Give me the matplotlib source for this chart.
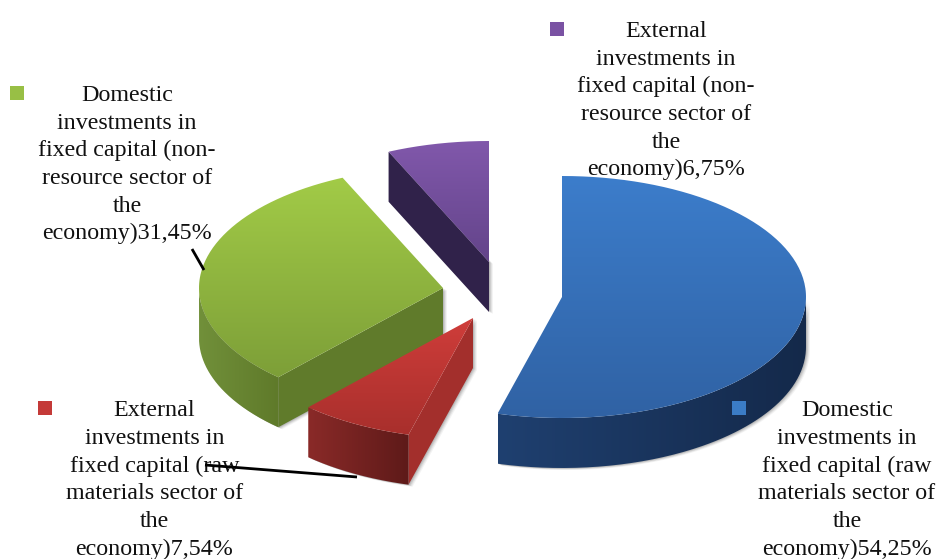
import numpy as np
import matplotlib
matplotlib.use("Agg")
import matplotlib.pyplot as plt
from matplotlib.path import Path
from matplotlib.patches import PathPatch, Polygon, Rectangle

# ---- data ----
labels = [
    "Domestic\ninvestments in\nfixed capital (raw\nmaterials sector of\nthe\neconomy)54,25%",
    "External\ninvestments in\nfixed capital (raw\nmaterials sector of\nthe\neconomy)7,54%",
    "Domestic\ninvestments in\nfixed capital (non-\nresource sector of\nthe\neconomy)31,45%",
    "External\ninvestments in\nfixed capital (non-\nresource sector of\nthe\neconomy)6,75%",
]
values = [54.25, 7.54, 31.45, 6.75]

# ---- style and layout ----
top_colors = [("#3c7dcb", "#3062a4"), ("#cf3d3a", "#a82f2c"),
              ("#a2cb47", "#7d9f38"), ("#8158ab", "#63448a")]
rim_colors = [("#1f4070", "#14294a"), ("#8a2a28", "#5e1a19"),
              ("#71903a", "#5f7a2a"), ("#30224a", "#30224a")]
cut_colors = ["#1f3f6b", "#a32f2c", "#607b2b", "#30224a"]
legend_colors = ["#3b7cc6", "#c43a38", "#98bf45", "#7a52a3"]
apexes = [(562, 297), (473, 318), (443, 288), (489, 262)]
RX, RY, DEPTH = 244, 121, 50
label_xy = [(847, 400.5), (154.5, 400.5), (127, 85), (666, 21)]
marker_xy = [(739, 408), (45, 408), (17, 93), (557, 29)]
leaders = [None, ((205, 465), (357, 477)), ((192, 249), (204, 270)), None]

plt.rcParams["font.family"] = ["Liberation Serif", "DejaVu Serif"]
fig = plt.figure(figsize=(9.41, 5.59), dpi=100)
ax = fig.add_axes([0, 0, 1, 1])
ax.set_xlim(0, 941)
ax.set_ylim(559, 0)
ax.axis("off")


def pt(apex, deg, dz=0.0):
    t = np.radians(deg)
    return apex[0] + RX * np.sin(t), apex[1] - RY * np.cos(t) + dz


def arc(apex, a0, a1, dz=0.0, n=160):
    t = np.linspace(a0, a1, n)
    x, y = pt(apex, t, dz)
    return np.column_stack([x, y])


def gradient_fill(verts, c0, c1, horizontal=False, zorder=2):
    verts = np.asarray(verts)
    patch = PathPatch(Path(np.vstack([verts, verts[:1]])), fc="none", ec="none", zorder=zorder)
    ax.add_patch(patch)
    rgb0, rgb1 = matplotlib.colors.to_rgb(c0), matplotlib.colors.to_rgb(c1)
    f = np.linspace(0, 1, 256)
    grad = np.outer(1 - f, rgb0) + np.outer(f, rgb1)
    img = grad[None, :, :] if horizontal else grad[:, None, :]
    x0, y0 = verts.min(axis=0)
    x1, y1 = verts.max(axis=0)
    im = ax.imshow(img, extent=(x0, x1, y1, y0), aspect="auto", zorder=zorder,
                   interpolation="bilinear")
    im.set_clip_path(patch)


def draw_slice(i, a0, a1, z):
    apex = apexes[i]
    top = np.vstack([[apex], arc(apex, a0, a1)])
    lo, hi = max(a0, 90), min(a1, 270)
    rim_pts = None
    if lo < hi:
        rim_pts = np.vstack([arc(apex, lo, hi), arc(apex, hi, lo, DEPTH)])
    e = pt(apex, a0)
    cut = np.array([apex, e, (e[0], e[1] + DEPTH), (apex[0], apex[1] + DEPTH)])
    # soft shadow on the sides only
    for shift, alpha in ((4, 0.07), (3, 0.1), (2, 0.14), (1, 0.18)):
        for poly in ([rim_pts] if rim_pts is not None else []) + ([cut] if i else []):
            ax.add_patch(Polygon(poly + [shift, 0.5 * shift], fc="#555555", ec="none",
                                 alpha=alpha, zorder=z))
    # the blue slice's cut faces are turned away from the viewer
    if i != 0:
        ax.add_patch(Polygon(cut, fc=cut_colors[i], ec="none", zorder=z + 0.1))
    if rim_pts is not None:
        gradient_fill(rim_pts, *rim_colors[i], horizontal=True, zorder=z + 0.2)
    gradient_fill(top, *top_colors[i], zorder=z + 0.3)


fractions = np.array(values) / np.sum(values)
edges = np.concatenate([[0], np.cumsum(fractions)]) * 360
for i, z in zip((3, 2, 1, 0), (2, 3, 4, 5)):
    draw_slice(i, edges[i], edges[i + 1], z)

for i, lab in enumerate(labels):
    ax.text(*label_xy[i], lab, ha="center", va="top", ma="center", fontsize=17.3,
            linespacing=1.41, color="#111111", zorder=8)
    mx, my = marker_xy[i]
    ax.add_patch(Rectangle((mx - 7, my - 7), 14, 14, fc=legend_colors[i], ec="none", zorder=9))
    if leaders[i]:
        (x0, y0), (x1, y1) = leaders[i]
        ax.plot([x0, x1], [y0, y1], color="black", lw=2, zorder=9, solid_capstyle="butt")

ax.set_xlim(0, 941)
ax.set_ylim(559, 0)
fig.savefig("out.png", dpi=100, facecolor="white")
